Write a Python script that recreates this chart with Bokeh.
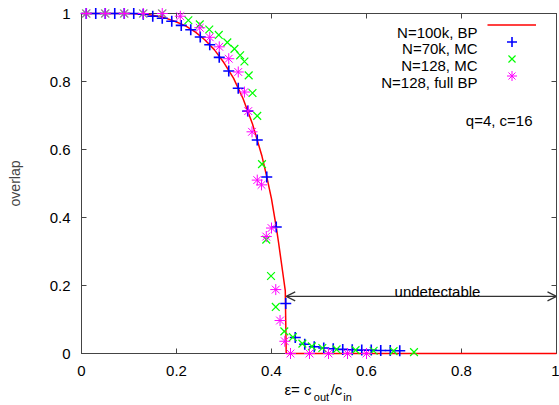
from bokeh.plotting import figure
from bokeh.models import (Range1d, FixedTicker, LinearAxis, Label, Arrow, OpenHead,
                          Legend, LegendItem, CustomLabelingPolicy, AllLabels)
from bokeh.embed import file_html
from bokeh.resources import INLINE

# ---------------- data ----------------
bp_eps = [0.0, 0.10, 0.14, 0.17, 0.20, 0.22, 0.24, 0.26, 0.28, 0.30, 0.32, 0.34,
          0.36, 0.38, 0.39, 0.40, 0.41, 0.415, 0.42, 0.425, 0.429, 0.431, 0.60, 0.80, 1.0]
bp_overlap = [1.0, 1.0, 0.997, 0.99, 0.975, 0.963, 0.945, 0.922, 0.893, 0.855, 0.81, 0.75,
              0.675, 0.58, 0.52, 0.455, 0.372, 0.325, 0.275, 0.225, 0.185, 0.0, 0.0, 0.0, 0.0]

mc70k_eps = [0.01, 0.03, 0.05, 0.07, 0.09, 0.11, 0.13, 0.15, 0.17, 0.19, 0.21, 0.23,
             0.25, 0.27, 0.29, 0.31, 0.33, 0.35, 0.37, 0.39, 0.41, 0.43, 0.45, 0.47,
             0.49, 0.51, 0.53, 0.55, 0.57, 0.59, 0.61, 0.63, 0.65, 0.67]
mc70k_overlap = [1.0, 1.0, 1.0, 1.0, 1.0, 1.0, 0.998, 0.992, 0.986, 0.977, 0.965, 0.952,
                 0.931, 0.908, 0.871, 0.831, 0.780, 0.713, 0.628, 0.519, 0.372, 0.147, 0.047, 0.027,
                 0.020, 0.016, 0.014, 0.012, 0.011, 0.010, 0.010, 0.009, 0.009, 0.008]

mc128_eps = [0.01, 0.05, 0.09, 0.13, 0.17, 0.225, 0.249, 0.269, 0.289, 0.307, 0.322, 0.334,
             0.343, 0.352, 0.36, 0.37, 0.38, 0.389, 0.399, 0.409, 0.427, 0.445, 0.465, 0.485,
             0.507, 0.537, 0.577, 0.615, 0.657, 0.70]
mc128_overlap = [1.0, 1.0, 1.0, 1.0, 1.0, 0.98, 0.968, 0.953, 0.937, 0.915, 0.896, 0.877,
                 0.859, 0.818, 0.766, 0.699, 0.557, 0.335, 0.228, 0.137, 0.065, 0.048, 0.029, 0.021,
                 0.016, 0.012, 0.010, 0.008, 0.007, 0.004]

fullbp_eps = [0.01, 0.05, 0.09, 0.13, 0.17, 0.208, 0.249, 0.27, 0.29, 0.31, 0.33, 0.343,
              0.351, 0.359, 0.37, 0.379, 0.389, 0.40, 0.409, 0.418, 0.428, 0.44, 0.48, 0.52,
              0.56, 0.60]
fullbp_overlap = [1.0, 1.0, 1.0, 1.0, 1.0, 0.992, 0.958, 0.93, 0.902, 0.867, 0.828, 0.769,
                  0.713, 0.652, 0.51, 0.496, 0.344, 0.369, 0.188, 0.097, 0.036, 0.0, 0.0, 0.0,
                  0.0, 0.0]

tick_values = [0, 0.2, 0.4, 0.6, 0.8, 1]
tick_labels = ["0", "0.2", "0.4", "0.6", "0.8", "1"]
legend_labels = ["N=100k, BP", "N=70k, MC", "N=128, MC", "N=128, full BP"]
params_text = "q=4, c=16"
region_text = "undetectable"
y_label = "overlap"
x_label_main = ["ε= c", "/c"]
x_label_sub = ["out", "in"]
threshold_eps = 0.431

FONT = "Liberation Sans"
FRAME_COLOR = "#444444"
FRAME_H = 341

p = figure(width=559, height=405, x_range=Range1d(0, 1), y_range=Range1d(0, 1),
           output_backend="svg", toolbar_location=None,
           min_border_left=81, min_border_right=3, min_border_top=13, min_border_bottom=51)
p.grid.visible = False
p.outline_line_color = FRAME_COLOR
p.outline_line_width = 1
p.background_fill_color = "white"
p.border_fill_color = "white"

overrides = {v: l for v, l in zip(tick_values, tick_labels)}

for ax in (p.xaxis[0], p.yaxis[0]):
    ax.ticker = FixedTicker(ticks=tick_values)
    ax.major_label_overrides = overrides
    ax.major_tick_in = 5
    ax.major_tick_out = 0
    ax.minor_tick_line_color = None
    ax.major_tick_line_color = FRAME_COLOR
    ax.axis_line_color = FRAME_COLOR
    ax.major_label_text_font = FONT
    ax.major_label_text_font_size = "15px"
    ax.major_label_text_color = "black"

p.xaxis.major_label_standoff = 12
p.yaxis.major_label_standoff = 11
p.yaxis.axis_label = y_label
p.yaxis.axis_label_text_font = FONT
p.yaxis.axis_label_text_font_size = "14px"
p.yaxis.axis_label_text_font_style = "normal"
p.yaxis.axis_label_standoff = 24

no_labels = CustomLabelingPolicy(code="""
for (const i of [...indices]) { indices.unset(i) }
return indices
""")
blank = {v: "" for v in tick_values}
for side in ("above", "right"):
    ax = LinearAxis(ticker=FixedTicker(ticks=tick_values), major_tick_in=5, major_tick_out=0,
                    minor_tick_line_color=None, major_tick_line_color=FRAME_COLOR,
                    axis_line_color=FRAME_COLOR, major_label_policy=no_labels,
                    major_label_overrides=blank,
                    major_label_standoff=0, major_label_text_font_size="0px")
    p.add_layout(ax, side)

# x axis title "ε= c_out/c_in": main parts and subscripts as two label-only axes below
main_centers = [0.4558, 0.5368]
sub_centers = [0.5053, 0.56]
for centers, texts, fs, standoff in ((main_centers, x_label_main, "15px", 2),
                                     (sub_centers, x_label_sub, "11px", -10)):
    ax = LinearAxis(ticker=FixedTicker(ticks=centers),
                    major_label_overrides={c: t for c, t in zip(centers, texts)},
                    major_tick_line_color=None, minor_tick_line_color=None,
                    major_tick_in=0, major_tick_out=0, axis_line_color=None,
                    major_label_policy=AllLabels(), major_label_standoff=standoff,
                    major_label_text_font=FONT, major_label_text_font_size=fs,
                    major_label_text_color="black")
    p.add_layout(ax, "below")

# ---------------- series ----------------
r_bp = p.line(bp_eps, bp_overlap, line_color="#ff0000", line_width=1.5)
r_mc70 = p.scatter(mc70k_eps, mc70k_overlap, marker="cross", size=11,
                   line_color="#0000ff", line_width=1.6)
r_mc128 = p.scatter(mc128_eps, mc128_overlap, marker="x", size=11,
                    line_color="#00ff00", line_width=1.2)
r_full = p.scatter(fullbp_eps, fullbp_overlap, marker="asterisk", size=11,
                   line_color="#ff00ff", line_width=1.0)
for r in (r_bp, r_mc70, r_mc128, r_full):
    r.level = "overlay"

# ---------------- legend: text right-aligned, sample to its right ----------------
renderers = [r_bp, r_mc70, r_mc128, r_full]
for i, (r, txt) in enumerate(zip(renderers, legend_labels)):
    lg = Legend(items=[LegendItem(label=" ", renderers=[r])],
                location=(406, FRAME_H - 25 - 17 * i), glyph_width=49, glyph_height=25,
                label_width=0, label_height=17, label_standoff=0, padding=0, spacing=0,
                margin=0, border_line_alpha=0, background_fill_alpha=0,
                label_text_font=FONT, label_text_font_size="15px")
    p.add_layout(lg)
    p.add_layout(Label(x=0.8337, y=1 - (18.7 + 16.7 * i) / FRAME_H, text=txt,
                       text_align="right", text_baseline="alphabetic", text_font=FONT,
                       text_font_size="15px", text_color="black"))

p.add_layout(Label(x=0.9495, y=1 - 107.7 / FRAME_H, text=params_text, text_align="right",
                   text_baseline="alphabetic", text_font=FONT, text_font_size="15px",
                   text_color="black"))

# undetectable region
p.add_layout(Arrow(start=OpenHead(size=9, line_color="#333333", line_width=1.2),
                   end=OpenHead(size=9, line_color="#333333", line_width=1.2),
                   x_start=threshold_eps, y_start=0.168, x_end=1.0, y_end=0.168,
                   line_color="#333333", line_width=1.2))
p.add_layout(Label(x=0.7495, y=0.1827, text=region_text, text_align="center",
                   text_baseline="alphabetic", text_font=FONT, text_font_size="15px",
                   text_color="black"))

open("out.html", "w").write(file_html(p, INLINE))
